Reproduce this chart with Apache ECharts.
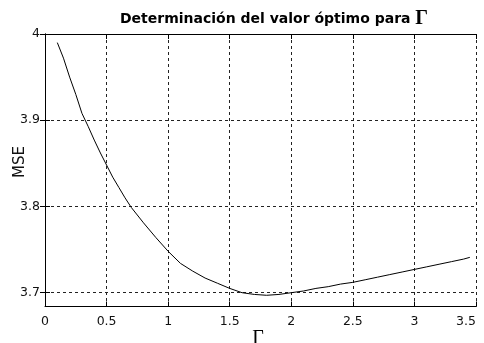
<!DOCTYPE html>
<html>
<head>
<meta charset="utf-8">
<script src="https://cdn.jsdelivr.net/npm/echarts@6/dist/echarts.min.js"></script>
<style>html,body{margin:0;padding:0;background:#fff}#c{width:484px;height:343px}</style>
</head>
<body>
<div id="c"></div>
<script>
var gammaValues = [0.10,0.15,0.20,0.25,0.30,0.35,0.40,0.45,0.50,0.55,0.60,0.65,0.70,0.80,0.90,1.00,1.10,1.20,1.30,1.40,1.50,1.60,1.70,1.80,1.90,2.00,2.10,2.20,2.30,2.40,2.50,2.60,2.70,2.80,2.90,3.00,3.10,3.20,3.30,3.40,3.45];
var mseValues = [3.990,3.972,3.950,3.930,3.908,3.893,3.877,3.862,3.848,3.834,3.822,3.810,3.799,3.781,3.764,3.748,3.734,3.725,3.717,3.711,3.705,3.700,3.698,3.697,3.698,3.700,3.702,3.705,3.707,3.710,3.712,3.715,3.718,3.721,3.724,3.727,3.730,3.733,3.736,3.739,3.741];
var yTicks = [3.7, 3.8, 3.9, 4];
var xTicks = [0, 0.5, 1, 1.5, 2, 2.5, 3, 3.5];
var titleText = 'Determinación del valor óptimo para ';
var titleSymbol = 'Γ';
var xName = 'Γ';
var yName = 'MSE';

var chart = echarts.init(document.getElementById('c'));
var pts = gammaValues.map(function (g, i) { return [g, mseValues[i]]; });
var lbl = {color: '#111', fontFamily: 'DejaVu Sans', fontSize: 12.5};
var grid = {type: [3, 3], color: '#222', width: 1};
chart.setOption({
  animation: false,
  title: [{
    text: '{a|' + titleText + '}{b|' + titleSymbol + '}',
    left: 269, top: 4, textAlign: 'center',
    textStyle: {rich: {
      a: {fontFamily: 'DejaVu Sans', fontWeight: 'bold', fontSize: 14, color: '#000'},
      b: {fontFamily: 'Liberation Serif, Times New Roman', fontWeight: 'bold', fontSize: 20, color: '#000'}
    }}
  }, {
    text: xName, left: 253, top: 324, textAlign: 'center',
    textStyle: {fontFamily: 'Liberation Serif, Times New Roman', fontWeight: 'normal', fontSize: 20, color: '#000'}
  }],
  graphic: [{
    type: 'text', x: 20, y: 162, rotation: Math.PI / 2,
    style: {text: yName, font: '15px "DejaVu Sans"', fill: '#111', align: 'center', verticalAlign: 'middle'}
  }],
  grid: {left: 45, right: 8, top: 34, bottom: 36.5, containLabel: false, outerBoundsMode: 'none'},
  xAxis: [{
    type: 'value', min: xTicks[0], max: xTicks[xTicks.length - 1], interval: 0.5,
    axisLine: {lineStyle: {color: '#000'}},
    axisTick: {inside: true, length: 5, lineStyle: {color: '#000'}},
    axisLabel: Object.assign({margin: 9, alignMaxLabel: 'right'}, lbl),
    splitLine: {show: true, lineStyle: grid}
  }, {
    type: 'value', position: 'top', min: xTicks[0], max: xTicks[xTicks.length - 1], interval: 0.5,
    axisLine: {show: true, lineStyle: {color: '#000'}},
    axisTick: {show: true, inside: true, length: 5, lineStyle: {color: '#000'}},
    axisLabel: {show: false}, splitLine: {show: false}
  }],
  yAxis: [{
    type: 'value', min: 3.684, max: 4,
    axisLine: {show: true, lineStyle: {color: '#000'}},
    axisTick: {inside: true, length: 5, customValues: yTicks, lineStyle: {color: '#000'}},
    axisLabel: Object.assign({margin: 5, customValues: yTicks, formatter: function (v) { return String(+v.toFixed(2)); }}, lbl),
    splitLine: {show: true, lineStyle: grid}
  }, {
    type: 'value', position: 'right', min: 3.684, max: 4,
    axisLine: {show: true, lineStyle: {color: '#000'}},
    axisTick: {show: true, inside: true, length: 5, customValues: yTicks, lineStyle: {color: '#000'}},
    axisLabel: {show: false, customValues: yTicks}, splitLine: {show: false}
  }],
  series: [{
    type: 'line', data: pts, showSymbol: false, smooth: false,
    lineStyle: {color: '#000', width: 1}, xAxisIndex: 0, yAxisIndex: 0
  }]
});
</script>
</body>
</html>
